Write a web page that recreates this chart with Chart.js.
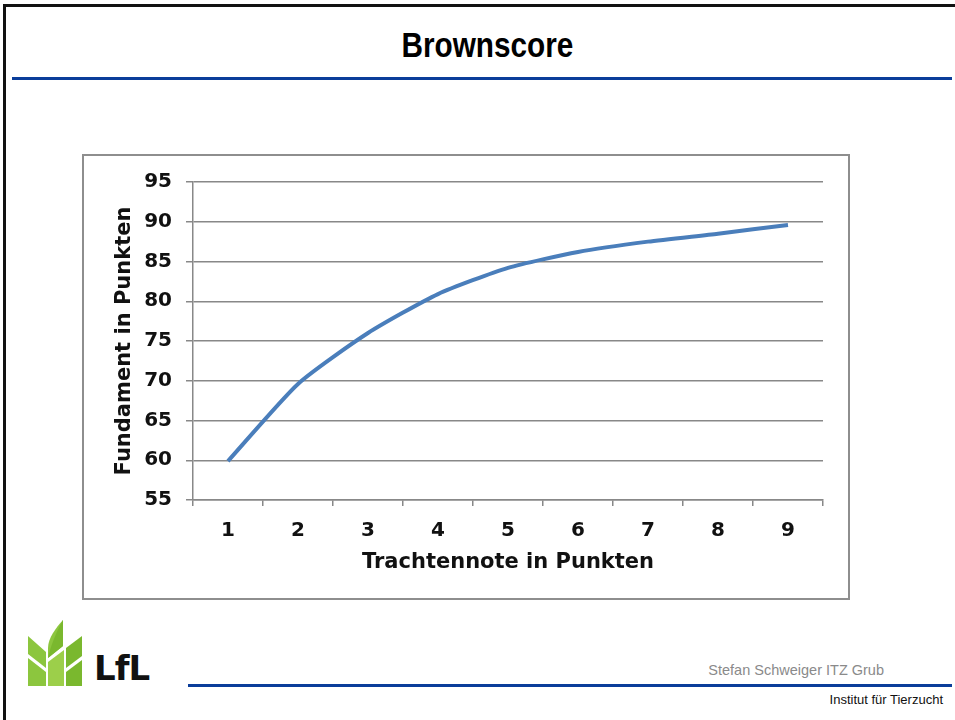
<!DOCTYPE html>
<html lang="de">
<head>
    <meta charset="UTF-8">
    <title>Brownscore</title>
    <script src="https://cdn.jsdelivr.net/npm/chart.js@4.4.0/dist/chart.umd.min.js"></script>
    <style>
        html, body {
            margin: 0;
            padding: 0;
            background: #fff;
            width: 955px;
            height: 720px;
            overflow: hidden;
            position: relative;
            font-family: "Liberation Sans", Arial, sans-serif;
        }
        .slide-border {
            position: absolute;
            left: 3px;
            top: 4px;
            width: 960px;
            height: 730px;
            border-left: 3px solid #111;
            border-top: 3px solid #111;
        }
        .title {
            position: absolute;
            left: 0;
            width: 975px;
            top: 25px;
            text-align: center;
            font-family: "Liberation Sans", Arial, sans-serif;
            font-weight: bold;
            font-size: 35px;
            transform: scaleX(0.85);
            transform-origin: 487px 0;
        }
        .rule {
            position: absolute;
            height: 3px;
            background: #0a3d9a;
        }
        .chart-box {
            position: absolute;
            left: 84px;
            top: 156px;
            width: 764px;
            height: 442px;
            outline: 2px solid #8e8e8e;
        }
        .author {
            position: absolute;
            right: 71px;
            top: 662px;
            font-size: 14.5px;
            color: #8a8a8a;
        }
        .institute {
            position: absolute;
            right: 12px;
            top: 692px;
            font-size: 13px;
            color: #111;
        }
        .logo {
            position: absolute;
            left: 26px;
            top: 618px;
        }
        .logo-text {
            position: absolute;
            left: 94px;
            top: 648px;
            font-family: "DejaVu Sans", sans-serif;
            font-weight: bold;
            font-size: 34px;
            letter-spacing: -1px;
            color: #111;
        }
    </style>
</head>
<body>

<div class="slide-border"></div>
<div class="title">Brownscore</div>
<div class="rule" style="left:12px; top:77px; width:940px;"></div>

<!-- chart -->
<div class="chart-box">
    <canvas id="brownChart" width="764" height="442"></canvas>
</div>

<!-- footer -->
<svg class="logo" width="60" height="70" viewBox="0 0 60 70">
    <path d="M37 2 C30 10 22 20 22 30 L22 40 L37 28 Z" fill="#8cc63e"/>
    <path d="M37 2 L37 28 L22 40 C24 30 30 14 37 2 Z" fill="#7ab82e"/>
    <path d="M2 18 L20 34 L20 50 L2 36 Z" fill="#8cc63e"/>
    <path d="M40 30 L56 18 C56 28 56 36 56 38 L40 50 Z" fill="#7ab82e"/>
    <path d="M2 40 L20 54 L20 68 L2 68 Z" fill="#8cc63e"/>
    <path d="M22 44 L38 32 L38 68 L22 68 Z" fill="#9ccf4a"/>
    <path d="M40 54 L56 42 L56 68 L40 68 Z" fill="#7ab82e"/>
</svg>
<div class="logo-text">LfL</div>
<div class="rule" style="left:188px; top:684px; width:764px;"></div>
<div class="author">Stefan Schweiger ITZ Grub</div>
<div class="institute">Institut für Tierzucht</div>

<script>
    // Werte
    const trachtNoten = ['1', '2', '3', '4', '5', '6', '7', '8', '9'];
    const fundamentPunkte = [59.9, 69.6, 76.0, 80.9, 84.2, 86.2, 87.5, 88.5, 89.6];
    const yMin = 55;
    const yMax = 95;
    const yStep = 5;

    const tickFont = { family: 'DejaVu Sans', weight: 'bold', size: 20 };
    const titleFont = { family: 'DejaVu Sans', weight: 'bold', size: 21 };
    const gridColor = '#888888';

    const ctx = document.getElementById('brownChart').getContext('2d');
    new Chart(ctx, {
        type: 'line',
        data: {
            labels: trachtNoten,
            datasets: [{
                label: 'Fundament',
                data: fundamentPunkte,
                borderColor: '#4a7ebb',
                borderWidth: 4,
                tension: 0.2,
                pointRadius: 0,
                fill: false
            }]
        },
        options: {
            responsive: false,
            animation: false,
            devicePixelRatio: 1,
            layout: {
                padding: { top: 24, right: 25, left: 0, bottom: 0 }
            },
            plugins: {
                legend: { display: false },
                tooltip: { enabled: false }
            },
            scales: {
                x: {
                    offset: true,
                    grid: {
                        offset: true,
                        drawOnChartArea: false,
                        drawTicks: true,
                        tickLength: 6,
                        color: gridColor,
                        lineWidth: 1.5
                    },
                    border: { color: gridColor, width: 1.5 },
                    ticks: { font: tickFont, color: '#111', padding: 13 },
                    title: {
                        display: true,
                        text: 'Trachtennote in Punkten',
                        font: titleFont,
                        color: '#111',
                        padding: { top: 0, bottom: 23 }
                    },
                    afterFit: function(scale) { scale.height = 98; }
                },
                y: {
                    min: yMin,
                    max: yMax,
                    grid: {
                        color: gridColor,
                        lineWidth: 1.5,
                        tickLength: 7
                    },
                    border: { color: gridColor, width: 1.5 },
                    ticks: { stepSize: yStep, font: tickFont, color: '#111', padding: 14 },
                    title: {
                        display: true,
                        text: 'Fundament in Punkten',
                        font: titleFont,
                        color: '#111',
                        padding: { top: 28, bottom: 0 }
                    },
                    afterFit: function(scale) { scale.width = 109; }
                }
            }
        }
    });
</script>

</body>
</html>
